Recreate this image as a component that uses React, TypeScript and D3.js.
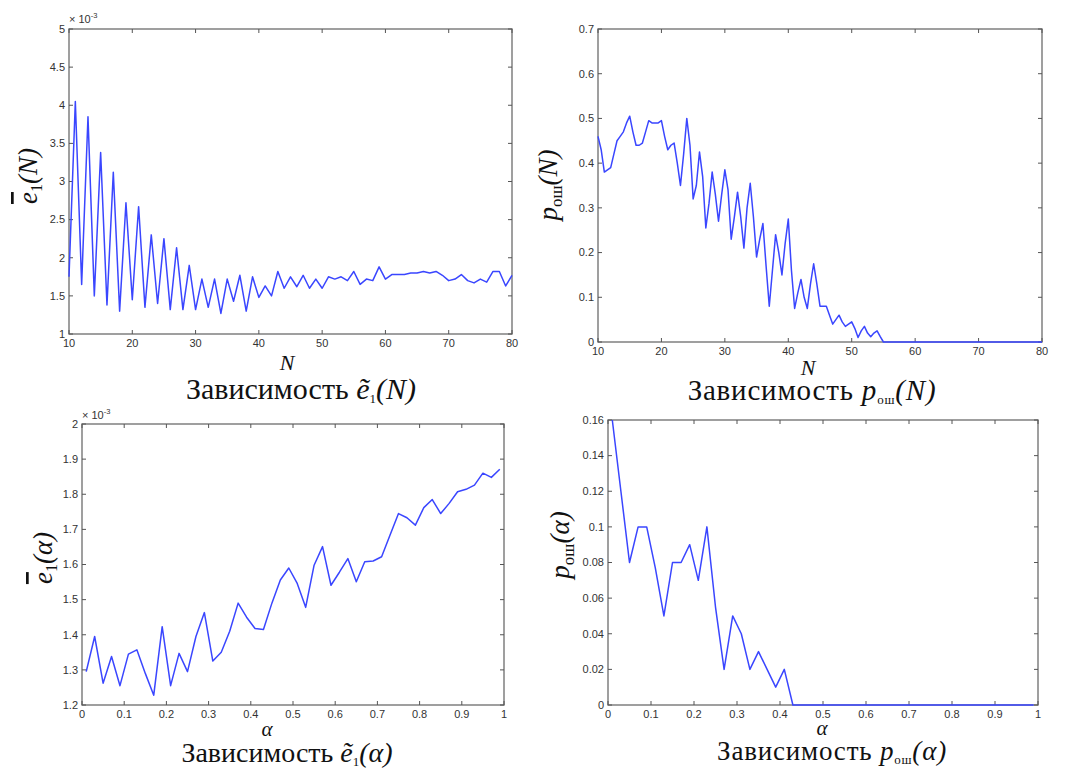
import * as d3 from "d3";

// ---- data ----

// panel 1: mean error e1 vs N (x 10^-3)
const e1NGrid = d3.range(10, 81, 1);
const e1NValues = [
  1.75, 4.05, 1.65, 3.85, 1.5, 3.38, 1.38, 3.12, 1.3, 2.72,
  1.45, 2.67, 1.35, 2.3, 1.4, 2.25, 1.32, 2.13, 1.32, 1.9,
  1.32, 1.72, 1.35, 1.72, 1.27, 1.72, 1.43, 1.77, 1.3, 1.75,
  1.48, 1.63, 1.5, 1.82, 1.6, 1.75, 1.62, 1.77, 1.6, 1.72,
  1.6, 1.75, 1.72, 1.75, 1.7, 1.82, 1.65, 1.72, 1.7, 1.88,
  1.72, 1.78, 1.78, 1.78, 1.8, 1.8, 1.82, 1.8, 1.82, 1.77,
  1.7, 1.72, 1.78, 1.7, 1.67, 1.72, 1.68, 1.82, 1.82, 1.63,
  1.77,
];

// panel 2: error probability vs N
const pNGrid = [...d3.range(10, 55, 0.5), ...d3.range(55, 81, 1)];
const pNValues = [
  0.46, 0.43, 0.38, 0.385, 0.39, 0.42, 0.45, 0.46, 0.47, 0.49,
  0.505, 0.47, 0.44, 0.44, 0.445, 0.47, 0.495, 0.49, 0.49, 0.49,
  0.495, 0.46, 0.43, 0.44, 0.445, 0.4, 0.35, 0.42, 0.5, 0.44,
  0.32, 0.35, 0.425, 0.37, 0.255, 0.31, 0.38, 0.33, 0.27, 0.33,
  0.385, 0.34, 0.23, 0.28, 0.335, 0.28, 0.21, 0.3, 0.355, 0.28,
  0.19, 0.23, 0.265, 0.17, 0.08, 0.16, 0.24, 0.2, 0.15, 0.22,
  0.275, 0.16, 0.075, 0.11, 0.14, 0.1, 0.075, 0.13, 0.175, 0.13,
  0.08, 0.08, 0.08, 0.06, 0.04, 0.05, 0.06, 0.045, 0.035, 0.04,
  0.045, 0.03, 0.01, 0.025, 0.035, 0.02, 0.012, 0.02, 0.025, 0.012,
  0, 0, 0, 0, 0, 0, 0, 0, 0, 0,
  0, 0, 0, 0, 0, 0, 0, 0, 0, 0,
  0, 0, 0, 0, 0, 0,
];

// panel 3: mean error vs alpha (x 10^-3)
const alphaGrid = d3.range(0.01, 1, 0.02);
const e1AValues = [
  1.295, 1.395, 1.262, 1.338, 1.255, 1.345, 1.357, 1.29, 1.228, 1.423,
  1.255, 1.347, 1.295, 1.395, 1.463, 1.325, 1.35, 1.41, 1.49, 1.45,
  1.418, 1.415, 1.49, 1.556, 1.59, 1.546, 1.478, 1.598, 1.651, 1.541,
  1.578, 1.617, 1.551, 1.608, 1.61, 1.622, 1.684, 1.745, 1.733, 1.712,
  1.762, 1.785, 1.745, 1.774, 1.807, 1.814, 1.826, 1.86, 1.848, 1.871,
];

// panel 4: error probability vs alpha
const pAValues = [
  0.16, 0.12, 0.08, 0.1, 0.1, 0.077, 0.05, 0.08, 0.08, 0.09,
  0.07, 0.1, 0.055, 0.02, 0.05, 0.04, 0.02, 0.03, 0.02, 0.01,
  0.02, 0, 0, 0, 0, 0, 0, 0, 0, 0,
  0, 0, 0, 0, 0, 0, 0, 0, 0, 0,
  0, 0, 0, 0, 0, 0, 0, 0, 0, 0,
];

const nTicks = [10, 20, 30, 40, 50, 60, 70, 80];
const alphaTicks = d3.range(0, 11).map((d) => d / 10);
const e1NTicks = d3.range(0, 9).map((d) => 1 + d * 0.5);
const pNTicks = d3.range(0, 8).map((d) => d / 10);
const e1ATicks = d3.range(0, 9).map((d) => 1.2 + d * 0.1);
const pATicks = d3.range(0, 9).map((d) => d * 0.02);

const LINE = "#3a46ff";
const SERIF = "'Times New Roman', 'Liberation Serif', 'DejaVu Serif', serif";
const SANS = "'Liberation Sans', Arial, sans-serif";

type Box = { x0: number; x1: number; y0: number; y1: number };

type PanelProps = {
  box: Box;
  xDomain: [number, number];
  yDomain: [number, number];
  xTicks: number[];
  yTicks: number[];
  xs: number[];
  ys: number[];
};

const fmt = (v: number) => String(+v.toFixed(3));

const Panel = ({ box, xDomain, yDomain, xTicks, yTicks, xs, ys }: PanelProps) => {
  const x = d3.scaleLinear().domain(xDomain).range([box.x0, box.x1]);
  const y = d3.scaleLinear().domain(yDomain).range([box.y1, box.y0]);
  const pts = xs.map((d, i) => [d, ys[i]] as [number, number]);
  const path = d3
    .line<[number, number]>()
    .x((d) => x(d[0]))
    .y((d) => y(d[1]))(pts);
  const tl = 4;

  return (
    <g>
      <rect
        x={box.x0}
        y={box.y0}
        width={box.x1 - box.x0}
        height={box.y1 - box.y0}
        fill="white"
        stroke="#777"
        strokeWidth={1.4}
      />
      {xTicks.map((t) => (
        <g key={"x" + t}>
          <line x1={x(t)} x2={x(t)} y1={box.y1} y2={box.y1 - tl} stroke="#555" />
          <line x1={x(t)} x2={x(t)} y1={box.y0} y2={box.y0 + tl} stroke="#555" />
          <text
            x={x(t)}
            y={box.y1 + 13}
            textAnchor="middle"
            fontFamily={SANS}
            fontSize={11}
            fill="#333"
          >
            {fmt(t)}
          </text>
        </g>
      ))}
      {yTicks.map((t) => (
        <g key={"y" + t}>
          <line x1={box.x0} x2={box.x0 + tl} y1={y(t)} y2={y(t)} stroke="#555" />
          <line x1={box.x1} x2={box.x1 - tl} y1={y(t)} y2={y(t)} stroke="#555" />
          <text
            x={box.x0 - 4}
            y={y(t)}
            dy="0.35em"
            textAnchor="end"
            fontFamily={SANS}
            fontSize={11}
            fill="#333"
          >
            {fmt(t)}
          </text>
        </g>
      ))}
      <path d={path ?? undefined} fill="none" stroke={LINE} strokeWidth={1.5} strokeLinejoin="round" />
    </g>
  );
};

const Exponent = ({ x, y }: { x: number; y: number }) => (
  <text x={x} y={y} fontFamily={SANS} fontSize={11} fill="#333">
    × 10
    <tspan dy={-5} fontSize={7.5}>
      -3
    </tspan>
  </text>
);

// rotated y label "ē1(v)"
const ELabel = ({ x, y, v }: { x: number; y: number; v: string }) => (
  <text
    transform={`translate(${x},${y}) rotate(-90)`}
    textAnchor="middle"
    fontFamily={SERIF}
    fontStyle="italic"
    fontSize={27}
    fill="#111"
  >
    <tspan textDecoration="overline">e</tspan>
    <tspan dy={5} fontSize={16} fontStyle="normal">
      1
    </tspan>
    <tspan dy={-5}>({v})</tspan>
  </text>
);

const PLabel = ({ x, y, v }: { x: number; y: number; v: string }) => (
  <text
    transform={`translate(${x},${y}) rotate(-90)`}
    textAnchor="middle"
    fontFamily={SERIF}
    fontStyle="italic"
    fontSize={27}
    fill="#111"
  >
    p
    <tspan dy={5} fontSize={17} fontStyle="normal">
      ош
    </tspan>
    <tspan dy={-5}>({v})</tspan>
  </text>
);

const AxisName = ({ x, y, v, size = 22 }: { x: number; y: number; v: string; size?: number }) => (
  <text x={x} y={y} textAnchor="middle" fontFamily={SERIF} fontStyle="italic" fontSize={size} fill="#111">
    {v}
  </text>
);

const CaptionE = ({ x, y, v, size = 30 }: { x: number; y: number; v: string; size?: number }) => (
  <text x={x} y={y} textAnchor="middle" fontFamily={SERIF} fontSize={size} fill="#111">
    Зависимость{" "}
    <tspan fontStyle="italic">ẽ</tspan>
    <tspan dy={4} fontSize={13}>
      1
    </tspan>
    <tspan dy={-4} fontStyle="italic">
      ({v})
    </tspan>
  </text>
);

const CaptionP = ({ x, y, v, size = 29 }: { x: number; y: number; v: string; size?: number }) => (
  <text x={x} y={y} textAnchor="middle" fontFamily={SERIF} fontSize={size} letterSpacing={0.8} fill="#111">
    Зависимость{"  "}
    <tspan fontStyle="italic">p</tspan>
    <tspan dy={4} fontSize={13}>
      ош
    </tspan>
    <tspan dy={-4} fontStyle="italic">
      ({v})
    </tspan>
  </text>
);

export default function App() {
  return (
    <svg
      width={1068}
      height={769}
      viewBox="0 0 1068 769"
      style={{ position: "absolute", left: 0, top: 0, background: "white" }}
    >
      <rect width={1068} height={769} fill="white" />

      <Panel
        box={{ x0: 69, x1: 512, y0: 29, y1: 334 }}
        xDomain={[10, 80]}
        yDomain={[1, 5]}
        xTicks={nTicks}
        yTicks={e1NTicks}
        xs={e1NGrid}
        ys={e1NValues}
      />
      <Exponent x={69} y={23} />
      <ELabel x={37} y={176} v="N" />
      <AxisName x={287} y={370} v="N" />
      <CaptionE x={301} y={399} v="N" />

      <Panel
        box={{ x0: 598, x1: 1042, y0: 29, y1: 342 }}
        xDomain={[10, 80]}
        yDomain={[0, 0.7]}
        xTicks={nTicks}
        yTicks={pNTicks}
        xs={pNGrid}
        ys={pNValues}
      />
      <PLabel x={557} y={185} v="N" />
      <AxisName x={808} y={375} v="N" />
      <CaptionP x={812} y={400} v="N" />

      <Panel
        box={{ x0: 82, x1: 504, y0: 424, y1: 705 }}
        xDomain={[0, 1]}
        yDomain={[1.2, 2]}
        xTicks={alphaTicks}
        yTicks={e1ATicks}
        xs={alphaGrid}
        ys={e1AValues}
      />
      <Exponent x={82} y={419} />
      <ELabel x={52} y={558} v="α" />
      <AxisName x={267} y={736} v="α" size={21} />
      <CaptionE x={287} y={762} v="α" size={28} />

      <Panel
        box={{ x0: 608, x1: 1038, y0: 420, y1: 705 }}
        xDomain={[0, 1]}
        yDomain={[0, 0.16]}
        xTicks={alphaTicks}
        yTicks={pATicks}
        xs={alphaGrid}
        ys={pAValues}
      />
      <PLabel x={569} y={545} v="α" />
      <AxisName x={822} y={735} v="α" size={21} />
      <CaptionP x={832} y={760} v="α" size={27} />
    </svg>
  );
}
